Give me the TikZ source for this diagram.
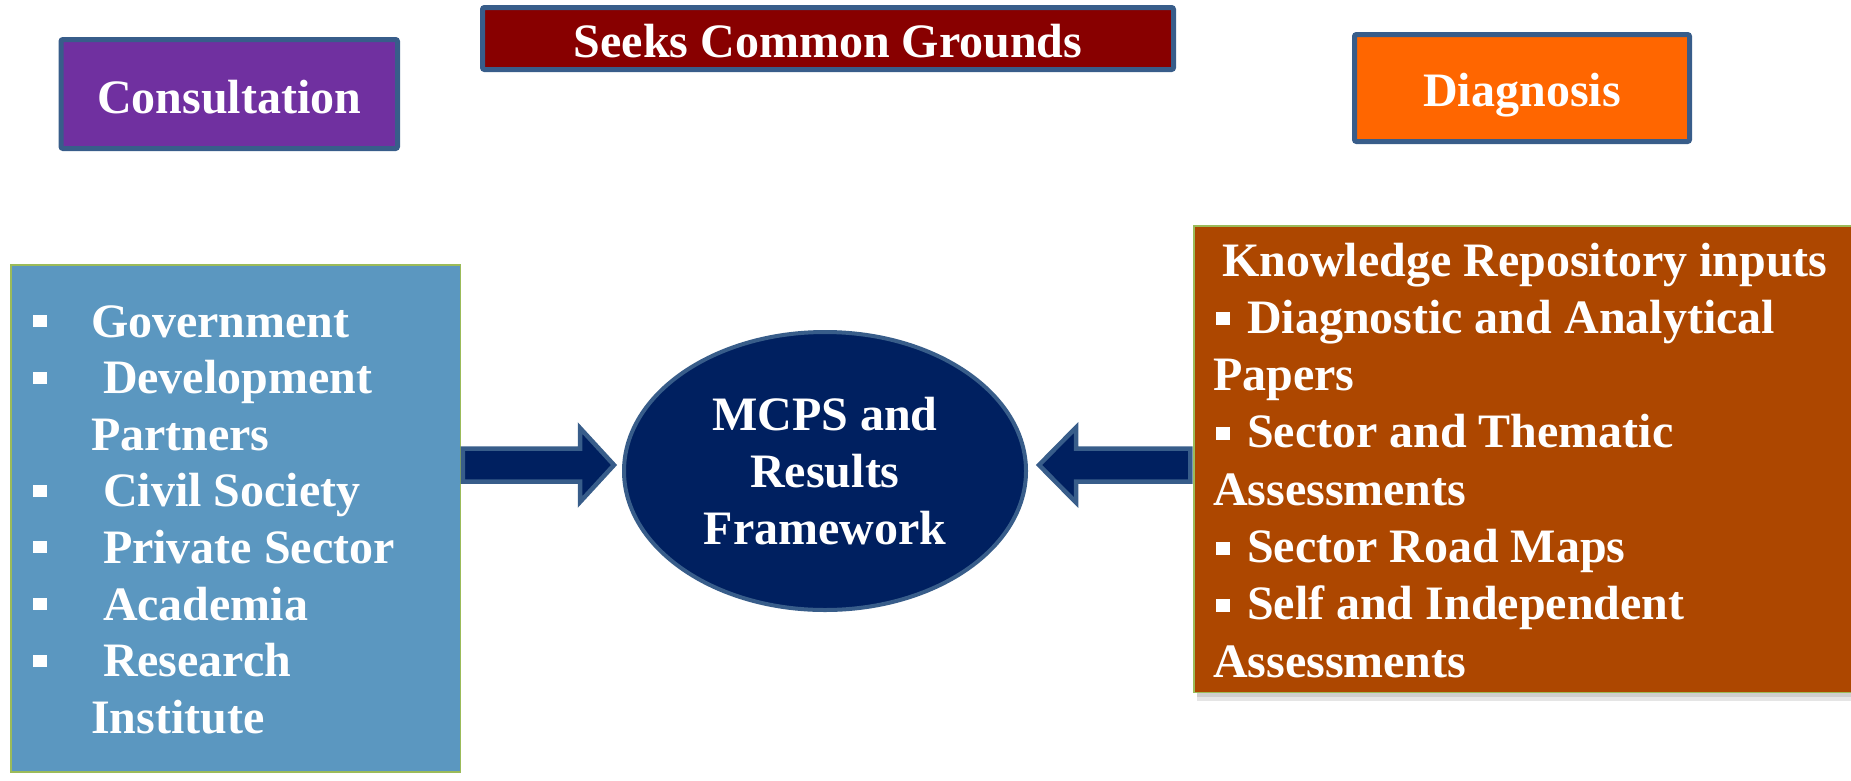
\documentclass[tikz,border=0pt]{standalone}
\usepackage{fontspec}
\setmainfont{Liberation Serif}
\usetikzlibrary{calc,shapes.geometric}
\definecolor{bord}{HTML}{385D8A}
\definecolor{cpurple}{HTML}{7030A0}
\definecolor{cred}{HTML}{880000}
\definecolor{corange}{HTML}{FF6600}
\definecolor{navy}{HTML}{002060}
\definecolor{lblue}{HTML}{5B97C0}
\definecolor{rbrown}{HTML}{AD4700}
\definecolor{lgreen}{HTML}{9BBB59}
\newcommand\lbul{\makebox[58pt][l]{\raisebox{10pt}{\rule{14pt}{12pt}}}}
\newcommand\lind{\hspace*{58pt}}
\newcommand\rbul{\hspace*{3pt}\makebox[31pt][l]{\raisebox{8pt}{\rule{14pt}{13pt}}}}
\begin{document}
\begin{tikzpicture}[x=1pt,y=-1pt,
  every node/.style={inner sep=0pt, outer sep=0pt, text=white,
    font=\bfseries\fontsize{48}{57}\selectfont},
  titlebox/.style={rectangle, draw=bord, line width=5pt, rounded corners=2pt,
    text height=#1, text depth=0pt},
  listbox/.style={rectangle, draw=lgreen, line width=1.5pt},
  listtext/.style={anchor=base west},
  blockarrow/.style={draw=bord, fill=navy, line width=4.5pt, line join=miter}
]
\useasboundingbox (0,0) rectangle (1851,780);

% title boxes
\node[titlebox=38pt, fill=cpurple, minimum width=336.5pt, minimum height=109pt]
  (cons) at (229.25,94) {Consultation};
\node[titlebox=37pt, fill=cred, minimum width=691pt, minimum height=62pt]
  (seek) at (828,38.5) {Seeks Common Grounds};
\node[titlebox=36pt, fill=corange, minimum width=335pt, minimum height=107pt]
  (diag) at (1522,88) {Diagnosis};

% left list box
\node[listbox, fill=lblue, minimum width=449.5pt, minimum height=507pt]
  (lb) at (235.5,518.3) {};
\node[listtext] (lbt) at (33,337) {\vtop{\baselineskip=56.6pt
  \hbox{\lbul Government}
  \hbox{\lbul\ Development}
  \hbox{\lind Partners}
  \hbox{\lbul\ Civil Society}
  \hbox{\lbul\ Private Sector}
  \hbox{\lbul\ Academia}
  \hbox{\lbul\ Research}
  \hbox{\lind Institute}}};

% right list box
\node[listbox, fill=rbrown, minimum width=666pt, minimum height=466.5pt]
  (rb) at (1526.9,459) {};
\fill[black, opacity=0.10] ($(rb.south west)+(3,1)$) rectangle ($(rb.south east)+(0,9)$);
\fill[black, opacity=0.10] ($(rb.south west)+(3,1)$) rectangle ($(rb.south east)+(0,5)$);
\node[listtext] (rbt) at (1213,276) {\vtop{\baselineskip=57.3pt
  \hbox{\hspace*{9pt}Knowledge Repository inputs}
  \hbox{\rbul Diagnostic and Analytical}
  \hbox{Papers}
  \hbox{\rbul Sector and Thematic}
  \hbox{Assessments}
  \hbox{\rbul Sector Road Maps}
  \hbox{\rbul Self and Independent}
  \hbox{Assessments}}};

% central ellipse
\node[ellipse, draw=bord, fill=navy, line width=4pt, minimum width=402pt,
  minimum height=278pt, align=center] (mcps) at (825,471)
  {MCPS and\\Results\\Framework};

% block arrows
\coordinate (ltip) at ($(mcps.west)+(-10,-6)$);
\coordinate (lst) at ($(lb.east|-ltip)+(2.5,0)$);
\draw[blockarrow] ($(lst)+(0,-16.5)$) -- ($(ltip)+(-34,-16.5)$)
  -- ($(ltip)+(-34,-37)$) -- (ltip) -- ($(ltip)+(-34,37)$)
  -- ($(ltip)+(-34,16.5)$) -- ($(lst)+(0,16.5)$) -- cycle;

\coordinate (rtip) at ($(mcps.east)+(13,-6)$);
\coordinate (rst) at ($(rb.west|-rtip)+(-3.5,0)$);
\draw[blockarrow] ($(rst)+(0,-16.5)$) -- ($(rtip)+(37,-16.5)$)
  -- ($(rtip)+(37,-37.5)$) -- (rtip) -- ($(rtip)+(37,37.5)$)
  -- ($(rtip)+(37,16.5)$) -- ($(rst)+(0,16.5)$) -- cycle;
\end{tikzpicture}
\end{document}
